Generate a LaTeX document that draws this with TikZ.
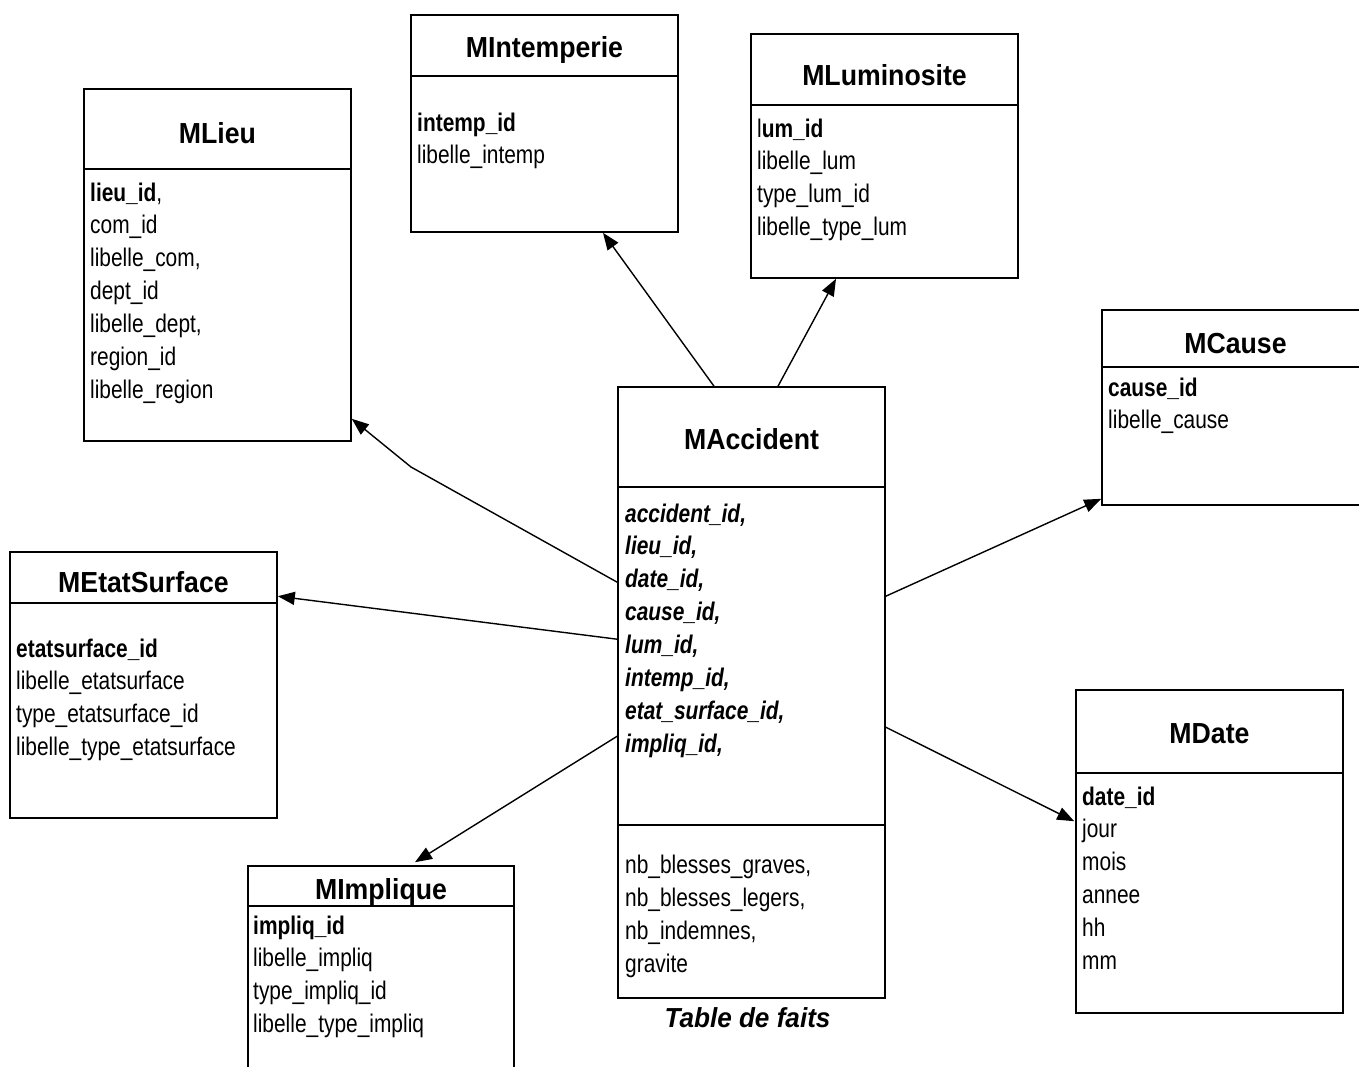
\documentclass[tikz,border=0pt]{standalone}
\usepackage{fontspec}
\usetikzlibrary{arrows.meta,calc}
\newfontfamily\bodyfont[FakeStretch=0.82]{Liberation Sans}
\newfontfamily\titlefont[FakeStretch=0.92]{Liberation Sans}
\newfontfamily\capfont[FakeStretch=0.95]{Liberation Sans}
\newcommand\rowsat[5]{%
  \foreach \t [count=\i] in {#5} \node[attr] (#1-\i) at (#2, {#3+(\i-1)*#4}) {\t};}
\begin{document}
\begin{tikzpicture}[x=1pt,y=-1pt,
  box/.style={draw, line width=1.6pt, rectangle, inner sep=0pt},
  sep/.style={line width=1.6pt},
  ttl/.style={anchor=base, inner sep=0pt, font={\titlefont\bfseries\fontsize{29pt}{32pt}\selectfont}},
  attr/.style={anchor=base west, inner sep=0pt, font={\bodyfont\fontsize{25.5pt}{30pt}\selectfont}},
  conn/.style={line width=1.4pt, -{Triangle[length=17pt,width=13pt]}}]
\clip (0,0) rectangle (1359,1066);
\useasboundingbox (0,0) rectangle (1359,1066);

% ---- MLieu
\node[box, minimum width=267pt, minimum height=352pt] (lieu) at (217.5,265) {};
\draw[sep] ($(lieu.north west)+(0,81)$) -- ($(lieu.north east)+(0,81)$);
\node[ttl] (lieu-t) at (lieu.north |- 0,143) {MLieu};
\rowsat{lieu}{90}{201}{32.9}{{\textbf{lieu\_id},},com\_id,{libelle\_com,},dept\_id,{libelle\_dept,},region\_id,libelle\_region}

% ---- MIntemperie
\node[box, minimum width=267pt, minimum height=217pt] (intemp) at (544.5,123.5) {};
\draw[sep] ($(intemp.north west)+(0,62)$) -- ($(intemp.north east)+(0,62)$);
\node[ttl] (intemp-t) at (intemp.north |- 0,57) {MIntemperie};
\rowsat{intemp}{417}{131}{32.9}{\textbf{intemp\_id},libelle\_intemp}

% ---- MLuminosite
\node[box, minimum width=267pt, minimum height=244pt] (lum) at (884.5,156) {};
\draw[sep] ($(lum.north west)+(0,72)$) -- ($(lum.north east)+(0,72)$);
\node[ttl] (lum-t) at (lum.north |- 0,85) {MLuminosite};
\rowsat{lum}{757}{137}{32.9}{l\textbf{um\_id},libelle\_lum,type\_lum\_id,libelle\_type\_lum}

% ---- MCause
\node[box, minimum width=267pt, minimum height=195pt] (cause) at (1235.5,407.5) {};
\draw[sep] ($(cause.north west)+(0,58)$) -- ($(cause.north east)+(0,58)$);
\node[ttl] (cause-t) at (cause.north |- 0,353) {MCause};
\rowsat{cause}{1108}{396}{32.9}{\textbf{cause\_id},libelle\_cause}

% ---- MAccident
\node[box, minimum width=267pt, minimum height=611pt] (acc) at (751.5,692.5) {};
\draw[sep] ($(acc.north west)+(0,101)$) -- ($(acc.north east)+(0,101)$);
\draw[sep] ($(acc.north west)+(0,439)$) -- ($(acc.north east)+(0,439)$);
\node[ttl] (acc-t) at (acc.north |- 0,449) {MAccident};
\rowsat{acck}{625}{522}{32.86}{{\textbf{\textit{accident\_id,}}},{\textbf{\textit{lieu\_id,}}},{\textbf{\textit{date\_id,}}},{\textbf{\textit{cause\_id,}}},{\textbf{\textit{lum\_id,}}},{\textbf{\textit{intemp\_id,}}},{\textbf{\textit{etat\_surface\_id,}}},{\textbf{\textit{impliq\_id,}}}}
\rowsat{accm}{625}{873}{33}{{nb\_blesses\_graves,},{nb\_blesses\_legers,},{nb\_indemnes,},gravite}
\coordinate (faitspos) at ($(acc.south)+(-4,29)$);
\node[anchor=base, inner sep=0pt, font={\capfont\bfseries\itshape\fontsize{27.5pt}{30pt}\selectfont}] (faits) at (faitspos) {Table de faits};

% ---- MEtatSurface
\node[box, minimum width=267pt, minimum height=266pt] (etat) at (143.5,685) {};
\draw[sep] ($(etat.north west)+(0,52)$) -- ($(etat.north east)+(0,52)$);
\node[ttl] (etat-t) at (etat.north |- 0,592) {MEtatSurface};
\rowsat{etat}{16}{657}{32.9}{\textbf{etatsurface\_id},libelle\_etatsurface,type\_etatsurface\_id,libelle\_type\_etatsurface}

% ---- MImplique
\node[box, minimum width=266pt, minimum height=214pt] (impl) at (381,973) {};
\draw[sep] ($(impl.north west)+(0,41)$) -- ($(impl.north east)+(0,41)$);
\node[ttl] (impl-t) at (impl.north |- 0,899) {MImplique};
\rowsat{impl}{253}{934}{32.9}{\textbf{impliq\_id},libelle\_impliq,type\_impliq\_id,libelle\_type\_impliq}

% ---- MDate
\node[box, minimum width=267pt, minimum height=323pt] (date) at (1209.5,851.5) {};
\draw[sep] ($(date.north west)+(0,84)$) -- ($(date.north east)+(0,84)$);
\node[ttl] (date-t) at (date.north |- 0,743) {MDate};
\rowsat{date}{1082}{805}{32.8}{\textbf{date\_id},jour,mois,annee,hh,mm}

% ---- connectors
\coordinate (bend) at (411,467);
\draw[conn] ($(acc.north west)+(0,196)$) -- (bend) -- ($(lieu.south east)+(0,-23)$);
\draw[conn] ($(acc.north west)+(0,253)$) -- ($(etat.north east)+(0,45)$);
\draw[conn] ($(acc.north west)+(0,350)$) -- ($(impl.north)+(34,-3)$);
\draw[conn] ($(acc.north)+(-37.5,0)$) -- ($(intemp.south)+(58.5,0)$);
\draw[conn] ($(acc.north)+(26.5,0)$) -- ($(lum.south)+(-48.5,0)$);
\draw[conn] ($(acc.north east)+(0,210)$) -- ($(cause.south west)+(0,-7)$);
\draw[conn] ($(acc.north east)+(0,341)$) -- ($(date.north west)+(-1,132)$);
\end{tikzpicture}
\end{document}
